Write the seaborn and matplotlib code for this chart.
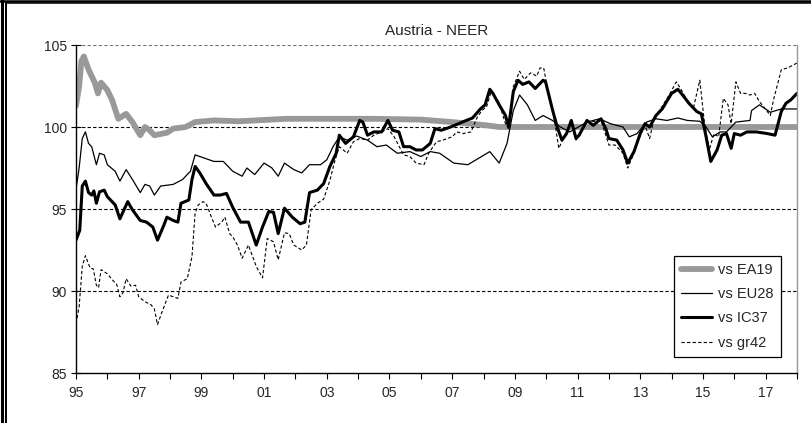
"""
Austria - NEER chart, redrawn with seaborn.
"""

import matplotlib
matplotlib.use('Agg')
import matplotlib.pyplot as plt
from matplotlib.lines import Line2D
from matplotlib.ticker import MultipleLocator, FixedLocator
import pandas as pd
import seaborn as sns

# ---- data (fractional years) ----

EA19_T = [1995.0, 1995.1, 1995.17, 1995.25, 1995.4, 1995.6, 1995.7, 1995.8, 1996.0,
          1996.15, 1996.35, 1996.6, 1996.8, 1997.05, 1997.2, 1997.35, 1997.5, 1997.9,
          1998.1, 1998.5, 1998.8, 1999.4, 2000.2, 2001.7, 2003.0, 2004.5, 2006.0,
          2007.0, 2008.1, 2008.5, 2010.0, 2012.0, 2014.0, 2016.0, 2018.0]
EA19_V = [101.3, 102.5, 104.0, 104.3, 103.5, 102.7, 102.05, 102.7, 102.25,
          101.65, 100.5, 100.8, 100.3, 99.5, 100.0, 99.8, 99.5, 99.65,
          99.9, 100.0, 100.3, 100.4, 100.35, 100.5, 100.5, 100.5, 100.45,
          100.3, 100.1, 100.0, 100.0, 100.0, 100.0, 100.0, 100.0]

EU28_T = [1995.0, 1995.1, 1995.2, 1995.3, 1995.4, 1995.5, 1995.65, 1995.75, 1995.9,
          1996.0, 1996.25, 1996.4, 1996.6, 1996.8, 1997.05, 1997.2, 1997.35, 1997.5,
          1997.7, 1998.1, 1998.4, 1998.65, 1998.8, 1998.95, 1999.4, 1999.7, 2000.0,
          2000.3, 2000.45, 2000.7, 2001.0, 2001.25, 2001.45, 2001.65, 2001.95, 2002.2,
          2002.45, 2002.8, 2003.0, 2003.2, 2003.4, 2003.65, 2003.95, 2004.3, 2004.6,
          2004.9, 2005.25, 2005.65, 2006.0, 2006.3, 2006.6, 2007.05, 2007.5, 2007.85,
          2008.2, 2008.5, 2008.75, 2008.95, 2009.15, 2009.4, 2009.65, 2009.9, 2010.2,
          2010.45, 2010.75, 2011.3, 2011.7, 2012.05, 2012.45, 2012.65, 2012.9, 2013.2,
          2013.5, 2013.85, 2014.2, 2014.5, 2014.9, 2015.1, 2015.3, 2015.55, 2015.75,
          2016.05, 2016.5, 2016.55, 2016.8, 2017.15, 2017.5, 2018.0]
EU28_V = [96.2, 97.5, 99.3, 99.7, 99.0, 98.8, 97.7, 98.4, 98.3,
          97.7, 97.3, 96.7, 97.4, 96.8, 96.0, 96.5, 96.4, 95.85,
          96.4, 96.5, 96.8, 97.3, 98.3, 98.2, 97.9, 97.9, 97.3,
          97.0, 97.5, 97.1, 97.8, 97.5, 97.0, 97.8, 97.4, 97.2,
          97.7, 97.7, 98.0, 98.8, 99.4, 99.2, 99.45, 99.2, 98.8,
          98.9, 98.4, 98.5, 98.2, 98.5, 98.4, 97.8, 97.7, 98.1,
          98.5, 97.8, 99.0, 101.0, 101.95, 101.35, 100.4, 100.7, 100.4,
          100.0, 99.7, 100.3, 100.5, 100.2, 100.0, 99.4, 99.6, 100.3,
          100.5, 100.4, 100.55, 100.4, 100.35, 100.0, 99.4, 99.7, 99.7,
          100.3, 100.4, 101.0, 101.35, 100.9, 101.1, 101.1]

IC37_T = [1995.0, 1995.12, 1995.2, 1995.3, 1995.4, 1995.5, 1995.57, 1995.65, 1995.75,
          1995.9, 1996.0, 1996.25, 1996.4, 1996.65, 1996.8, 1997.05, 1997.25, 1997.45,
          1997.6, 1997.8, 1997.9, 1998.1, 1998.25, 1998.35, 1998.6, 1998.7, 1998.8,
          1998.95, 1999.15, 1999.4, 1999.6, 1999.8, 2000.0, 2000.25, 2000.5, 2000.75,
          2000.95, 2001.15, 2001.3, 2001.45, 2001.65, 2001.9, 2002.15, 2002.3, 2002.45,
          2002.7, 2002.9, 2003.1, 2003.3, 2003.4, 2003.6, 2003.85, 2004.05, 2004.15,
          2004.3, 2004.5, 2004.75, 2004.95, 2005.1, 2005.3, 2005.45, 2005.65, 2005.85,
          2006.05, 2006.3, 2006.45, 2006.65, 2006.95, 2007.2, 2007.45, 2007.65, 2007.9,
          2008.05, 2008.2, 2008.3, 2008.5, 2008.7, 2008.8, 2008.95, 2009.1, 2009.25,
          2009.45, 2009.65, 2009.9, 2009.98, 2010.2, 2010.35, 2010.5, 2010.65, 2010.8,
          2010.95, 2011.05, 2011.3, 2011.5, 2011.75, 2011.9, 2012.0, 2012.25, 2012.45,
          2012.6, 2012.8, 2013.0, 2013.15, 2013.3, 2013.5, 2013.7, 2014.0, 2014.2,
          2014.35, 2014.55, 2014.8, 2014.95, 2015.1, 2015.25, 2015.45, 2015.6, 2015.75,
          2015.9, 2016.0, 2016.2, 2016.4, 2016.7, 2017.05, 2017.3, 2017.5, 2017.65,
          2017.8, 2018.0]
IC37_V = [93.1, 93.7, 96.4, 96.7, 96.0, 95.85, 96.1, 95.35, 96.05,
          96.15, 95.75, 95.25, 94.4, 95.45, 94.95, 94.3, 94.2, 93.9,
          93.1, 94.0, 94.5, 94.3, 94.2, 95.35, 95.55, 96.8, 97.6,
          97.2, 96.55, 95.85, 95.85, 95.95, 95.1, 94.2, 94.2, 92.8,
          93.9, 94.85, 94.8, 93.5, 95.05, 94.5, 94.1, 94.2, 96.0,
          96.15, 96.55, 97.6, 98.4, 99.5, 99.0, 99.4, 100.4, 100.3,
          99.5, 99.7, 99.7, 100.4, 99.8, 99.7, 98.8, 98.8, 98.6,
          98.6, 99.0, 99.9, 99.8, 100.0, 100.2, 100.4, 100.55, 101.1,
          101.35, 102.3, 102.05, 101.35, 100.7, 100.0, 102.15, 102.85, 102.6,
          102.75, 102.35, 102.85, 102.75, 101.05, 100.0, 99.2, 99.6, 100.4,
          99.3, 99.5, 100.4, 100.1, 100.5, 99.9, 99.3, 99.2, 98.6,
          97.8, 98.5, 99.6, 100.2, 100.0, 100.7, 101.1, 102.05, 102.3,
          101.95, 101.45, 100.95, 100.8, 99.4, 97.9, 98.6, 99.5, 99.6,
          98.7, 99.6, 99.5, 99.7, 99.7, 99.6, 99.5, 100.95, 101.45,
          101.65, 102.05]

GR42_T = [1995.0, 1995.1, 1995.2, 1995.3, 1995.45, 1995.55, 1995.65, 1995.72, 1995.8,
          1996.0, 1996.15, 1996.3, 1996.4, 1996.5, 1996.6, 1996.75, 1996.9, 1997.0,
          1997.2, 1997.4, 1997.5, 1997.6, 1997.75, 1997.95, 1998.1, 1998.25, 1998.35,
          1998.55, 1998.7, 1998.8, 1998.9, 1999.05, 1999.15, 1999.3, 1999.45, 1999.65,
          1999.75, 1999.9, 2000.0, 2000.15, 2000.3, 2000.5, 2000.75, 2000.95, 2001.1,
          2001.3, 2001.45, 2001.65, 2001.8, 2001.95, 2002.2, 2002.35, 2002.5, 2002.7,
          2002.9, 2003.1, 2003.25, 2003.4, 2003.65, 2003.85, 2004.05, 2004.3, 2004.5,
          2004.75, 2004.95, 2005.15, 2005.45, 2005.65, 2005.85, 2006.1, 2006.25, 2006.5,
          2006.7, 2007.0, 2007.15, 2007.35, 2007.6, 2007.8, 2007.95, 2008.1, 2008.25,
          2008.5, 2008.7, 2008.8, 2008.95, 2009.15, 2009.3, 2009.5, 2009.7, 2009.8,
          2009.92, 2010.05, 2010.25, 2010.4, 2010.6, 2010.8, 2010.95, 2011.3, 2011.75,
          2012.0, 2012.2, 2012.45, 2012.6, 2012.8, 2013.0, 2013.15, 2013.3, 2013.45,
          2013.65, 2013.95, 2014.15, 2014.3, 2014.55, 2014.7, 2014.9, 2015.05, 2015.2,
          2015.35, 2015.5, 2015.65, 2015.8, 2015.9, 2016.05, 2016.2, 2016.35, 2016.5,
          2016.65, 2016.8, 2016.95, 2017.15, 2017.25, 2017.5, 2017.7, 2018.0]
GR42_V = [88.0, 89.05, 91.5, 92.15, 91.4, 91.35, 90.35, 90.2, 91.3,
          91.05, 90.7, 90.4, 89.65, 89.9, 90.75, 90.3, 90.35, 89.65,
          89.35, 89.15, 88.9, 87.95, 88.75, 89.75, 89.65, 89.55, 90.55,
          90.75, 92.1, 94.75, 95.25, 95.45, 95.35, 94.6, 93.9, 94.2,
          94.5, 93.5, 93.3, 92.8, 92.0, 92.8, 91.5, 90.8, 93.2,
          93.0, 91.9, 93.55, 93.5, 92.8, 92.5, 92.8, 94.95, 95.35,
          95.6, 96.75, 97.9, 98.8, 98.4, 99.1, 99.3, 99.2, 99.5,
          99.7, 99.9, 99.4, 98.3, 98.2, 97.8, 97.7, 98.4, 99.1,
          99.2, 99.4, 99.7, 99.6, 99.7, 100.6, 101.0, 101.25, 102.2,
          101.45, 100.2, 99.9, 102.45, 103.4, 102.9, 103.3, 103.1, 103.6,
          103.6, 102.25, 100.6, 98.7, 99.5, 100.3, 99.2, 100.3, 100.4,
          98.9, 98.9, 98.4, 97.5, 98.4, 99.5, 100.1, 99.3, 100.6,
          101.1, 102.05, 102.75, 102.3, 101.45, 101.2, 102.85, 100.2, 98.6,
          99.6, 99.4, 101.75, 101.35, 100.2, 102.75, 102.05, 102.05, 101.95,
          102.05, 101.55, 101.2, 100.7, 101.65, 103.5, 103.6, 103.9]

X_TICKS = [1995, 1997, 1999, 2001, 2003, 2005, 2007, 2009, 2011, 2013, 2015, 2017]
X_LABELS = ['95', '97', '99', '01', '03', '05', '07', '09', '11', '13', '15', '17']
Y_TICKS = [85, 90, 95, 100, 105]

SERIES = [
    ('vs EA19', EA19_T, EA19_V, dict(color='#999999', linewidth=4.2, linestyle='-')),
    ('vs EU28', EU28_T, EU28_V, dict(color='black', linewidth=0.9, linestyle='-')),
    ('vs IC37', IC37_T, IC37_V, dict(color='black', linewidth=2.2, linestyle='-')),
    ('vs gr42', GR42_T, GR42_V, dict(color='black', linewidth=0.8, linestyle=(0, (3, 2)))),
]

sns.set_style('white')
plt.rcParams['font.family'] = ['Liberation Sans', 'DejaVu Sans']

W, H = 811, 423
fig = plt.figure(figsize=(W / 100, H / 100), dpi=100)
ax = fig.add_axes([76 / W, 1 - 373 / H, (797 - 76) / W, (373 - 45) / H])

for name, t, v, style in SERIES:
    df = pd.DataFrame({'Year': t, 'Index': v})
    sns.lineplot(data=df, x='Year', y='Index', ax=ax, label=name, **style)

ax.set_xlim(1995, 2018)
ax.set_ylim(85, 105)
ax.set_xlabel('')
ax.set_ylabel('')
ax.set_title('Austria - NEER', fontsize=11, pad=7)

ax.xaxis.set_major_locator(FixedLocator(X_TICKS))
ax.set_xticklabels(X_LABELS)
ax.xaxis.set_minor_locator(MultipleLocator(1))
ax.set_yticks(Y_TICKS)
ax.tick_params(axis='x', which='both', direction='out', length=4, width=0.8,
               color='black', labelsize=10, pad=5, bottom=True)
ax.tick_params(axis='y', direction='inout', length=7, width=0.8,
               color='black', labelsize=10, pad=3, left=True)

# dashed horizontal grid lines
for yv in Y_TICKS[1:]:
    ax.axhline(yv, color='#777777' if yv == 105 else 'black',
               linewidth=0.8, linestyle=(0, (3, 2)), zorder=0.5)

ax.spines['top'].set_visible(False)
ax.spines['right'].set_color('#999999')
ax.spines['right'].set_linewidth(1.0)
ax.spines['left'].set_color('black')
ax.spines['bottom'].set_color('black')
ax.spines['left'].set_linewidth(1.0)
ax.spines['bottom'].set_linewidth(1.0)

leg = ax.legend(loc='lower right', bbox_to_anchor=(0.978, 0.049), frameon=True,
                fancybox=False, edgecolor='black', framealpha=1, fontsize=10.5,
                handlelength=2.1, handletextpad=0.45, labelspacing=0.7,
                borderpad=0.5, borderaxespad=0)
leg.get_frame().set_linewidth(0.9)

# double border on the top and left edge of the picture
fig.add_artist(Line2D([0, 1], [1 - 1.0 / H, 1 - 1.0 / H], color='black', linewidth=1.8, transform=fig.transFigure))
fig.add_artist(Line2D([5.5 / W, 1], [1 - 3.5 / H, 1 - 3.5 / H], color='black', linewidth=1.1, transform=fig.transFigure))
fig.add_artist(Line2D([1.5 / W, 1.5 / W], [0, 1], color='black', linewidth=2.2, transform=fig.transFigure))
fig.add_artist(Line2D([6 / W, 6 / W], [0, 1 - 3.5 / H], color='black', linewidth=1.4, transform=fig.transFigure))

fig.savefig('out.png', dpi=100, facecolor='white')
